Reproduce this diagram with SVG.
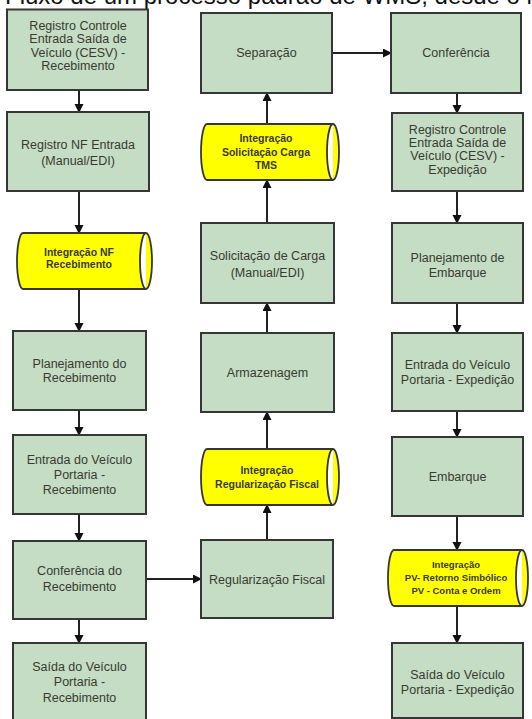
<svg xmlns="http://www.w3.org/2000/svg" width="532" height="719" viewBox="0 0 532 719">
<defs>
<style>
.box{fill:#c4ddc4;stroke:#363636;stroke-width:2}
.cyl{fill:#ffff00;stroke:#363636;stroke-width:1.8}
.t{font-family:"Liberation Sans",Arial,sans-serif;font-size:12.5px;fill:#3a3a32;text-anchor:middle}
.ty{font-family:"Liberation Sans",Arial,sans-serif;font-size:10.5px;font-weight:bold;fill:#3a3a32;text-anchor:middle}
.c{stroke:#222;stroke-width:2;fill:none;marker-end:url(#ah)}
.title{font-family:"Liberation Sans",Arial,sans-serif;font-size:24px;fill:#111}
</style>
<marker id="ah" markerUnits="userSpaceOnUse" markerWidth="10" markerHeight="10" refX="8" refY="4.5" orient="auto">
<path d="M0,0 L9,4.5 L0,9 z" fill="#111"/>
</marker>
</defs>
<rect width="532" height="719" fill="#ffffff"/>
<text class="title" x="5" y="4">Fluxo de um processo padrão de WMS, desde o recebimento</text>

<g id="connectors">
<line class="c" x1="79" y1="90" x2="79" y2="112"/>
<line class="c" x1="79" y1="191" x2="79" y2="233"/>
<line class="c" x1="79" y1="289" x2="79" y2="331"/>
<line class="c" x1="79" y1="410" x2="79" y2="435"/>
<line class="c" x1="79" y1="514" x2="79" y2="541"/>
<line class="c" x1="79" y1="619" x2="79" y2="643"/>
<line class="c" x1="146" y1="579" x2="201" y2="579"/>
<line class="c" x1="267" y1="540" x2="267" y2="505"/>
<line class="c" x1="267" y1="449" x2="267" y2="412"/>
<line class="c" x1="267" y1="333" x2="267" y2="303"/>
<line class="c" x1="267" y1="223" x2="267" y2="180"/>
<line class="c" x1="267" y1="124" x2="267" y2="93"/>
<line class="c" x1="332" y1="53" x2="391" y2="53"/>
<line class="c" x1="457" y1="93" x2="457" y2="113"/>
<line class="c" x1="457" y1="191" x2="457" y2="223"/>
<line class="c" x1="457" y1="303" x2="457" y2="333"/>
<line class="c" x1="457" y1="411" x2="457" y2="437"/>
<line class="c" x1="457" y1="516" x2="457" y2="550"/>
<line class="c" x1="457" y1="606" x2="457" y2="643"/>
</g>

<g id="cesv-recebimento">
<rect class="box" x="7" y="9.5" width="141" height="80.5"/>
<text class="t" x="78" y="29.5">Registro Controle</text>
<text class="t" x="78" y="43">Entrada Saída de</text>
<text class="t" x="78" y="56.5">Veículo (CESV) -</text>
<text class="t" x="78" y="70">Recebimento</text>
</g>
<g id="registro-nf">
<rect class="box" x="7" y="112" width="142" height="79"/>
<text class="t" x="78" y="149">Registro NF Entrada</text>
<text class="t" x="78" y="165">(Manual/EDI)</text>
</g>
<g id="integracao-nf">
<path class="cyl" d="M23,233 L146,233 A6,28 0 0 1 146,289 L23,289 A6,28 0 0 1 23,233 Z M146,233 A6,28 0 0 0 146,289"/>
<text class="ty" x="79" y="255.5">Integração NF</text>
<text class="ty" x="79" y="268">Recebimento</text>
</g>
<g id="planejamento-recebimento">
<rect class="box" x="13" y="331" width="133" height="79"/>
<text class="t" x="79.5" y="367.5">Planejamento do</text>
<text class="t" x="79.5" y="381.5">Recebimento</text>
</g>
<g id="entrada-recebimento">
<rect class="box" x="13" y="435" width="133" height="79"/>
<text class="t" x="79.5" y="463.5">Entrada do Veículo</text>
<text class="t" x="79.5" y="478.5">Portaria -</text>
<text class="t" x="79.5" y="494">Recebimento</text>
</g>
<g id="conferencia-recebimento">
<rect class="box" x="13" y="541" width="133" height="78"/>
<text class="t" x="79.5" y="574.5">Conferência do</text>
<text class="t" x="79.5" y="590.5">Recebimento</text>
</g>
<g id="saida-recebimento">
<rect class="box" x="13" y="643" width="133" height="80"/>
<text class="t" x="79.5" y="670.5">Saída do Veículo</text>
<text class="t" x="79.5" y="686">Portaria -</text>
<text class="t" x="79.5" y="701.5">Recebimento</text>
</g>

<g id="regularizacao-fiscal">
<rect class="box" x="201" y="540" width="132" height="78"/>
<text class="t" x="267" y="583.5">Regularização Fiscal</text>
</g>
<g id="integracao-regularizacao">
<path class="cyl" d="M207,449 L333,449 A6,28 0 0 1 333,505 L207,505 A6,28 0 0 1 207,449 Z M333,449 A6,28 0 0 0 333,505"/>
<text class="ty" x="267" y="474">Integração</text>
<text class="ty" x="267" y="487.5">Regularização Fiscal</text>
</g>
<g id="armazenagem">
<rect class="box" x="201" y="333" width="133" height="79"/>
<text class="t" x="267.5" y="377">Armazenagem</text>
</g>
<g id="solicitacao-carga">
<rect class="box" x="201" y="223" width="133" height="80"/>
<text class="t" x="267.5" y="259.5">Solicitação de Carga</text>
<text class="t" x="267.5" y="277">(Manual/EDI)</text>
</g>
<g id="integracao-tms">
<path class="cyl" d="M207,124 L333,124 A6,28 0 0 1 333,180 L207,180 A6,28 0 0 1 207,124 Z M333,124 A6,28 0 0 0 333,180"/>
<text class="ty" x="266" y="142">Integração</text>
<text class="ty" x="266" y="155.5">Solicitação Carga</text>
<text class="ty" x="266" y="169">TMS</text>
</g>
<g id="separacao">
<rect class="box" x="201" y="13" width="131" height="80"/>
<text class="t" x="266.5" y="57">Separação</text>
</g>

<g id="conferencia">
<rect class="box" x="391" y="13" width="130" height="80"/>
<text class="t" x="456" y="57">Conferência</text>
</g>
<g id="cesv-expedicao">
<rect class="box" x="392" y="113" width="131" height="78"/>
<text class="t" x="457.5" y="134">Registro Controle</text>
<text class="t" x="457.5" y="147">Entrada Saída de</text>
<text class="t" x="457.5" y="160">Veículo (CESV) -</text>
<text class="t" x="457.5" y="174">Expedição</text>
</g>
<g id="planejamento-embarque">
<rect class="box" x="392" y="223" width="131" height="80"/>
<text class="t" x="457.5" y="262">Planejamento de</text>
<text class="t" x="457.5" y="276.5">Embarque</text>
</g>
<g id="entrada-expedicao">
<rect class="box" x="392" y="333" width="131" height="78"/>
<text class="t" x="457.5" y="368.5">Entrada do Veículo</text>
<text class="t" x="457.5" y="384">Portaria - Expedição</text>
</g>
<g id="embarque">
<rect class="box" x="392" y="437" width="131" height="79"/>
<text class="t" x="457.5" y="481">Embarque</text>
</g>
<g id="integracao-pv">
<path class="cyl" d="M394,550 L522,550 A6,28 0 0 1 522,606 L394,606 A6,28 0 0 1 394,550 Z M522,550 A6,28 0 0 0 522,606"/>
<text class="ty" x="456" y="567.5" style="font-size:9.5px">Integração</text>
<text class="ty" x="456" y="581" style="font-size:9.5px">PV-  Retorno Simbólico</text>
<text class="ty" x="456" y="594" style="font-size:9.5px">PV - Conta e Ordem</text>
</g>
<g id="saida-expedicao">
<rect class="box" x="392" y="643" width="131" height="75"/>
<text class="t" x="457.5" y="678.5">Saída do Veículo</text>
<text class="t" x="457.5" y="694">Portaria - Expedição</text>
</g>
</svg>
